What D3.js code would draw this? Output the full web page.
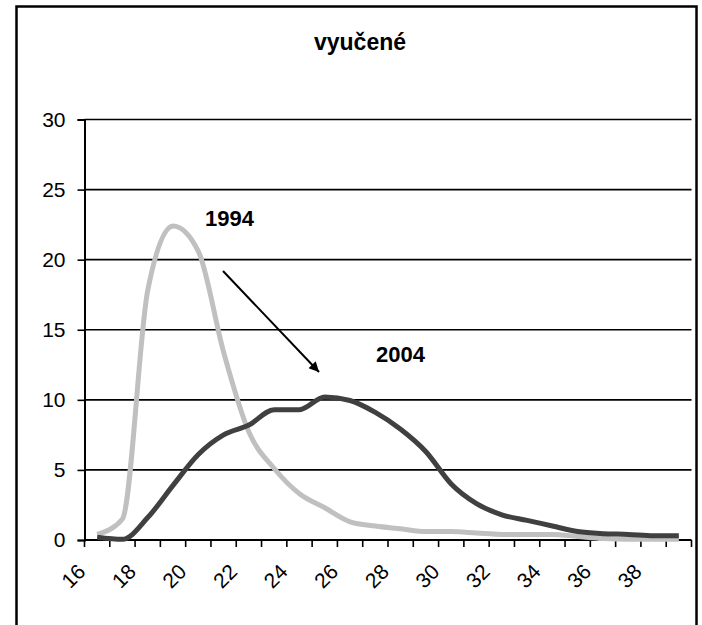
<!DOCTYPE html>
<html>
<head>
<meta charset="utf-8">
<script src="https://cdn.jsdelivr.net/npm/d3@7"></script>
<style>
  html, body { margin: 0; padding: 0; background: #fff; }
  svg { display: block; }
  text { font-family: "Liberation Sans", Arial, sans-serif; fill: #000; }
</style>
</head>
<body>
<svg id="chart" width="702" height="625"></svg>
<script>
// ---- data ----
const categories = [16,17,18,19,20,21,22,23,24,25,26,27,28,29,30,31,32,33,34,35,36,37,38,39];
const tickLabels = ["16","18","20","22","24","26","28","30","32","34","36","38"];
const yTicks = [0,5,10,15,20,25,30];
const series1994 = [0.4,1.5,17.8,22.4,20.6,13.4,7.7,5.1,3.3,2.3,1.3,1.0,0.8,0.6,0.6,0.5,0.4,0.4,0.4,0.25,0.1,0.05,0.05,0.05];
const series2004 = [0.2,0.05,1.6,3.9,6.1,7.5,8.2,9.3,9.3,10.2,9.95,9.1,7.9,6.3,4.0,2.6,1.8,1.4,1.0,0.6,0.45,0.4,0.3,0.3];
const chartTitle = "vyučené";
const seriesNames = ["1994","2004"];

// ---- layout ----
const svg = d3.select("#chart");
const plotLeft = 84.5, plotRight = 691.5, plotTop = 119.5, plotBottom = 540;

const x = d3.scaleBand().domain(categories).range([plotLeft, plotRight]).padding(0);
const y = d3.scaleLinear().domain([0, 30]).range([plotBottom, plotTop]);
const bw = x.bandwidth();

// outer frame
svg.append("rect")
  .attr("x", 16.5).attr("y", 6.5).attr("width", 680).attr("height", 640)
  .attr("fill", "none").attr("stroke", "#000").attr("stroke-width", 2.5);

// title
svg.append("text")
  .attr("x", 360).attr("y", 50)
  .attr("text-anchor", "middle")
  .attr("font-size", 23).attr("font-weight", "bold")
  .text(chartTitle);

// gridlines
svg.append("g").selectAll("line")
  .data(yTicks.filter(d => d > 0))
  .join("line")
  .attr("x1", plotLeft).attr("x2", plotRight)
  .attr("y1", d => y(d)).attr("y2", d => y(d))
  .attr("stroke", "#000").attr("stroke-width", 1.6);

// y axis
const yAxis = svg.append("g")
  .attr("transform", `translate(${plotLeft},0)`)
  .call(d3.axisLeft(y).tickValues(yTicks).tickSize(7).tickPadding(12).tickFormat(d3.format("d")));
yAxis.select(".domain").attr("stroke", "#000").attr("stroke-width", 2);
yAxis.selectAll(".tick line").attr("stroke", "#000").attr("stroke-width", 1.6);
yAxis.selectAll(".tick text")
  .attr("font-size", 21)
  .attr("font-family", "Liberation Sans, Arial, sans-serif")
  .attr("fill", "#000");

// x axis line
svg.append("line")
  .attr("x1", plotLeft).attr("x2", plotRight)
  .attr("y1", plotBottom).attr("y2", plotBottom)
  .attr("stroke", "#000").attr("stroke-width", 2);

// x ticks at category boundaries
const boundaries = categories.map(c => x(c)).concat([x(categories[categories.length - 1]) + bw]);
svg.append("g").selectAll("line")
  .data(boundaries)
  .join("line")
  .attr("x1", d => d).attr("x2", d => d)
  .attr("y1", plotBottom).attr("y2", plotBottom + 7)
  .attr("stroke", "#000").attr("stroke-width", 1.6);

// x labels, rotated
svg.append("g").selectAll("text")
  .data(tickLabels)
  .join("text")
  .attr("transform", d => `translate(${x(+d) + bw / 2 - 10.5},573) rotate(-45)`)
  .attr("text-anchor", "end")
  .attr("font-size", 21)
  .text(d => d);

// lines
const line = d3.line()
  .x((d, i) => x(categories[i]) + bw / 2)
  .y(d => y(d))
  .curve(d3.curveMonotoneX);

svg.append("path")
  .datum(series1994)
  .attr("d", line)
  .attr("fill", "none")
  .attr("stroke", "#c0c0c0")
  .attr("stroke-width", 5)
  .attr("stroke-linejoin", "round");

svg.append("path")
  .datum(series2004)
  .attr("d", line)
  .attr("fill", "none")
  .attr("stroke", "#404040")
  .attr("stroke-width", 5)
  .attr("stroke-linejoin", "round");

// annotations
svg.append("text")
  .attr("x", 205).attr("y", 226)
  .attr("font-size", 22).attr("font-weight", "bold")
  .text(seriesNames[0]);
svg.append("text")
  .attr("x", 376).attr("y", 362)
  .attr("font-size", 22).attr("font-weight", "bold")
  .text(seriesNames[1]);

// arrow
svg.append("defs").append("marker")
  .attr("id", "arrowhead")
  .attr("viewBox", "0 0 10 10")
  .attr("refX", 10).attr("refY", 5)
  .attr("markerWidth", 6).attr("markerHeight", 5)
  .attr("markerUnits", "strokeWidth")
  .attr("orient", "auto")
  .append("path")
  .attr("d", "M0,0 L10,5 L0,10 Z")
  .attr("fill", "#000");

svg.append("line")
  .attr("x1", 223).attr("y1", 271)
  .attr("x2", 319).attr("y2", 372)
  .attr("stroke", "#000").attr("stroke-width", 2)
  .attr("marker-end", "url(#arrowhead)");
</script>
</body>
</html>
